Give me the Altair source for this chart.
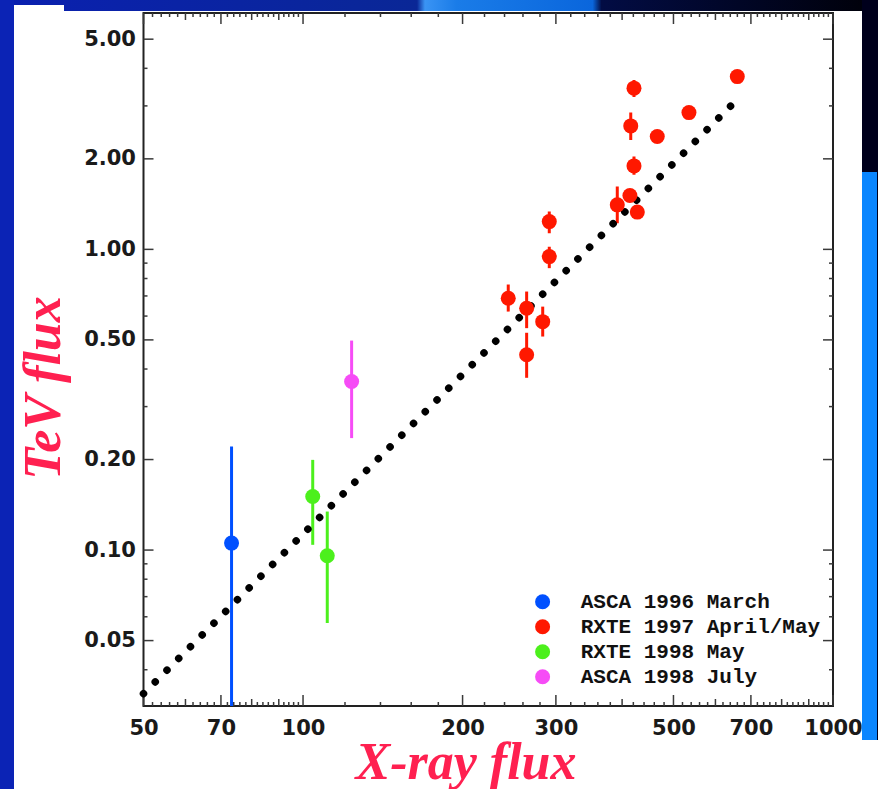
import altair as alt
import pandas as pd

# ---------------- data ----------------
series = ["ASCA 1996 March", "RXTE 1998 May", "RXTE 1998 May", "ASCA 1998 July"] + ["RXTE 1997 April/May"] * 15
x_flux = [73.3, 104.3, 111.1, 123.5,
          243.9, 264.2, 264.2, 283.3, 291.5, 291.5, 391.7, 413.8, 427.3, 421.2, 415.3, 421.2, 466.0, 534.8, 659.8]
tev_flux = [0.1055, 0.1507, 0.0957, 0.3634,
            0.688, 0.637, 0.446, 0.575, 0.946, 1.237, 1.406, 1.51, 1.33, 1.895, 2.574, 3.436, 2.372, 2.85, 3.754]
tev_lo = [0.025, 0.1041, 0.0572, 0.2357,
          0.621, 0.547, 0.374, 0.513, 0.866, 1.132, 1.222, 1.45, 1.30, 1.769, 2.31, 3.21, 2.30, 2.75, 3.62]
tev_hi = [0.2209, 0.1995, 0.1343, 0.4974,
          0.764, 0.724, 0.528, 0.645, 1.02, 1.336, 1.618, 1.57, 1.36, 2.035, 2.85, 3.66, 2.44, 2.95, 3.89]

fit_x = [50, 644]
fit_y = [0.0333, 3.02]

legend_order = ["ASCA 1996 March", "RXTE 1997 April/May", "RXTE 1998 May", "ASCA 1998 July"]
legend_colors = ["#0050ff", "#ff1800", "#4cf01c", "#f64cf6"]

x_major = [50, 70, 100, 200, 300, 500, 700, 1000]
x_mid = [60, 80, 90, 400, 600, 800, 900]
x_minor = [52, 54, 56, 58, 62, 64, 66, 68, 72, 74, 76, 78, 82, 84, 86, 88, 92, 94, 96, 98] + \
          [v for v in range(120, 1000, 20) if v % 100 != 0]
y_major = [0.05, 0.1, 0.2, 0.5, 1, 2, 5]
y_minor = [0.04, 0.06, 0.07, 0.08, 0.09, 0.3, 0.4, 0.6, 0.7, 0.8, 0.9, 3, 4]

x_domain = [50, 1000]
y_domain = [0.0303, 6.11]

x_title = "X-ray flux"
y_title = "TeV flux"

# ---------------- layout ----------------
W, H = 689.5, 693
PL, PT = 143.5, 13
PR, PB = 878 - PL - W, 789 - PT - H

df = pd.DataFrame(dict(series=series, x=x_flux, y=tev_flux, lo=tev_lo, hi=tev_hi))
df["hex"] = df["series"].map(dict(zip(legend_order, legend_colors)))
fit_df = pd.DataFrame({"x": fit_x, "y": fit_y})
ax_df = pd.DataFrame({"x": [x_domain[0], x_domain[1]], "y": [y_major[0], y_major[-1]]})
one = pd.DataFrame({"a": [0]})

xs = alt.Scale(type="log", domain=x_domain, nice=False)
ys = alt.Scale(type="log", domain=y_domain, nice=False)

TICK = "#3a3a3a"
LABEL_FONT = "DejaVu Sans"


def x_labels():
    kw = dict(orient="bottom", values=x_major, tickSize=11, offset=-11, domain=False, grid=False,
              title=None, tickOpacity=0, format="d", labelFont=LABEL_FONT, labelFontSize=21,
              labelFontWeight="bold", labelPadding=11, labelColor="#1a1a1a", labelFlush=False,
              labelOverlap=False)
    return alt.Chart(ax_df).mark_point(opacity=0).encode(
        x=alt.X("x:Q", scale=xs, axis=alt.Axis(**kw)), y=alt.Y("y:Q", scale=ys, axis=None))


def y_labels():
    kw = dict(orient="left", values=y_major, tickSize=10, offset=-10, domain=False, grid=False,
              title=None, tickOpacity=0, format=".2f", labelFont=LABEL_FONT, labelFontSize=21,
              labelFontWeight="bold", labelPadding=8, labelColor="#1a1a1a", labelFlush=False,
              labelOverlap=False)
    return alt.Chart(ax_df).mark_point(opacity=0).encode(
        x=alt.X("x:Q", scale=xs, axis=None), y=alt.Y("y:Q", scale=ys, axis=alt.Axis(**kw)))


def x_ticks(side, values, size):
    y0 = H if side == "bottom" else 0
    y1 = H - size if side == "bottom" else size
    return alt.Chart(pd.DataFrame({"v": values})).mark_rule(color=TICK, strokeWidth=1.5).encode(
        x=alt.X("v:Q", scale=xs, axis=None), y=alt.value(y0), y2=alt.value(y1))


def y_ticks(side, values, size):
    x0 = 0 if side == "left" else W
    x1 = size if side == "left" else W - size
    return alt.Chart(pd.DataFrame({"v": values})).mark_rule(color=TICK, strokeWidth=1.5).encode(
        y=alt.Y("v:Q", scale=ys, axis=None), x=alt.value(x0), x2=alt.value(x1))


def deco(x1, x2, y1, y2, fill):
    return alt.Chart(one).mark_rect(fill=fill).encode(
        x=alt.value(x1 - PL), x2=alt.value(x2 - PL),
        y=alt.value(y1 - PT), y2=alt.value(y2 - PT))


band_grad = alt.LinearGradient(
    gradient="linear", x1=0, x2=1, y1=0, y2=0,
    stops=[alt.GradientStop(offset=0, color="#0a20b0"),
           alt.GradientStop(offset=0.475, color="#0a2796"),
           alt.GradientStop(offset=0.484, color="#3a94f4"),
           alt.GradientStop(offset=0.52, color="#1a7ce8"),
           alt.GradientStop(offset=0.675, color="#0a66dc"),
           alt.GradientStop(offset=0.685, color="#020c44"),
           alt.GradientStop(offset=1, color="#000008")])

decorations = [
    deco(0, 878, 0, 11, band_grad),
    deco(14, 64, 5, 11, "#ffffff"),
    deco(0, 14, 0, 789, "#0b23b5"),
    deco(862, 878, 0, 740, "#00001c"),
    deco(862, 877, 172, 740, "#0a86ff"),
]

axes = [x_labels(), y_labels()]
ticks = [
    x_ticks("bottom", x_major, 11),
    x_ticks("bottom", x_mid, 7),
    x_ticks("bottom", x_minor, 4),
    x_ticks("top", x_major, 11),
    x_ticks("top", x_mid, 7),
    x_ticks("top", x_minor, 4),
    y_ticks("left", y_major, 10),
    y_ticks("left", y_minor, 4),
    y_ticks("right", y_major, 10),
    y_ticks("right", y_minor, 4),
]

fit = alt.Chart(fit_df).mark_line(color="black", strokeWidth=7.5, strokeDash=[0.01, 16.6],
                                  strokeCap="round").encode(
    x=alt.X("x:Q", scale=xs, axis=None), y=alt.Y("y:Q", scale=ys, axis=None))

bars = alt.Chart(df).mark_rule(strokeWidth=3, clip=True).encode(
    x=alt.X("x:Q", scale=xs, axis=None),
    y=alt.Y("lo:Q", scale=ys, axis=None), y2="hi:Q",
    color=alt.Color("hex:N", scale=None))

points = alt.Chart(df).mark_circle(size=225, opacity=1).encode(
    x=alt.X("x:Q", scale=xs, axis=None),
    y=alt.Y("y:Q", scale=ys, axis=None),
    color=alt.Color("series:N", scale=alt.Scale(domain=legend_order, range=legend_colors),
                    legend=alt.Legend(title=None, orient="none", legendX=388.6, legendY=578.2,
                                      symbolType="circle", symbolSize=225, symbolStrokeWidth=0,
                                      symbolOpacity=1,
                                      labelFont="Nimbus Mono PS, Courier New, Liberation Mono",
                                      labelFontSize=21, labelFontWeight="bold", labelColor="#111111",
                                      labelOffset=27.6, labelLimit=0,
                                      rowPadding=3.0, padding=0)))

TITLE_RED = "#ff2050"
xt = alt.Chart(one).mark_text(text=x_title, font="Liberation Serif", fontSize=52, fontStyle="italic",
                              fontWeight="bold", color=TITLE_RED, align="center",
                              baseline="alphabetic").encode(x=alt.value(466 - PL), y=alt.value(779 - PT))
yt = alt.Chart(one).mark_text(text=y_title, font="Liberation Serif", fontSize=52, fontStyle="italic",
                              fontWeight="bold", color=TITLE_RED, align="center", angle=270,
                              baseline="alphabetic").encode(x=alt.value(60 - PL), y=alt.value(388 - PT))

chart = alt.layer(*decorations, *axes, *ticks, bars, fit, points, xt, yt).resolve_axis(
    x="independent", y="independent").properties(
    width=W, height=H,
    padding={"left": PL, "top": PT, "right": PR, "bottom": PB},
    autosize=alt.AutoSizeParams(type="none"),
    background="#ffffff",
).configure_view(stroke="#222222", strokeWidth=2)

chart.save("out.html", embed_options={"renderer": "svg", "actions": False})
